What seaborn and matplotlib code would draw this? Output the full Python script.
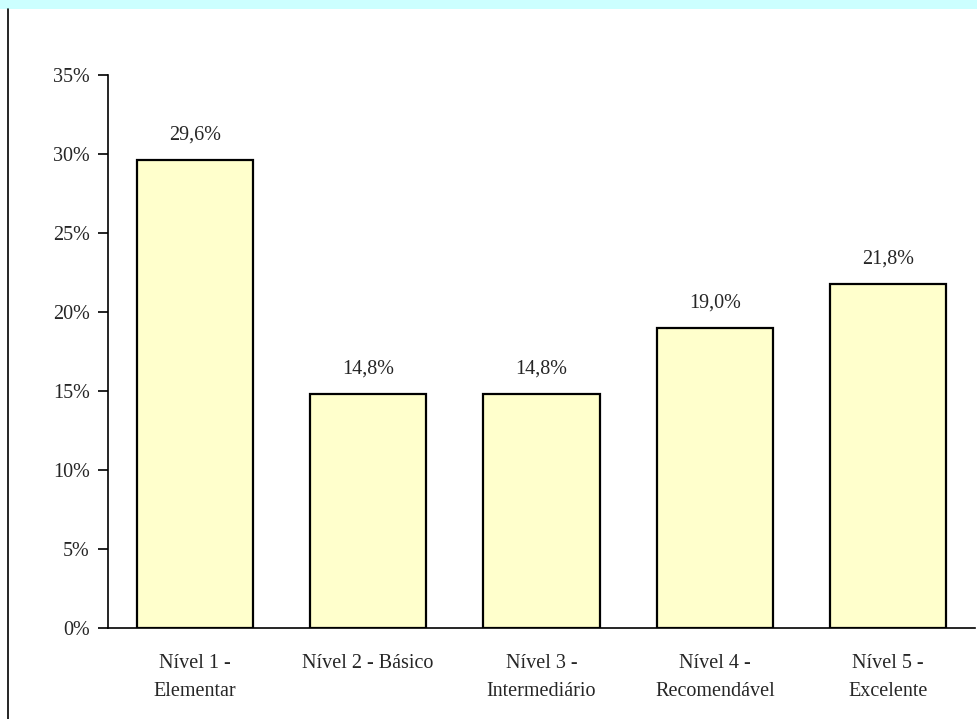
import matplotlib
matplotlib.use("Agg")
import matplotlib.pyplot as plt
from matplotlib.patches import Rectangle
from matplotlib.lines import Line2D
import seaborn as sns
import pandas as pd

categories = ["Nível 1 -\nElementar", "Nível 2 - Básico", "Nível 3 -\nIntermediário",
              "Nível 4 -\nRecomendável", "Nível 5 -\nExcelente"]
values = [29.6, 14.8, 14.8, 19.0, 21.8]
yticks = [0, 5, 10, 15, 20, 25, 30, 35]

sns.set_theme(style="white")
plt.rcParams["font.family"] = ["Liberation Serif", "DejaVu Serif"]

FS = 14.5
W, H = 977, 719
fig = plt.figure(figsize=(W / 100, H / 100), dpi=100)
ax = fig.add_axes([108 / W, 1 - 628 / H, (975 - 108) / W, (628 - 75) / H])

df = pd.DataFrame({"nivel": categories, "pct": values})
sns.barplot(data=df, x="nivel", y="pct", ax=ax, color="#FFFFCC", saturation=1,
            width=0.67, edgecolor="black", linewidth=1.6)

ax.set_ylim(0, 35)
ax.set_xlim(-0.5, len(categories) - 0.5)
ax.set_yticks(yticks)
ax.set_yticklabels([f"{v}%" for v in yticks], fontsize=FS)
ax.tick_params(axis="y", direction="out", length=7, width=1.2, color="black", pad=6, left=True)
ax.tick_params(axis="x", length=0, pad=19, labelsize=FS)
ax.set_xlabel("")
ax.set_ylabel("")
for s in ["top", "right"]:
    ax.spines[s].set_visible(False)
for s in ["left", "bottom"]:
    ax.spines[s].set_color("black")
    ax.spines[s].set_linewidth(1.2)

for i, v in enumerate(values):
    ax.annotate(f"{v:.1f}%".replace(".", ","), (i, v), xytext=(0, 11),
                textcoords="offset points", ha="center", va="bottom", fontsize=FS)

for lab in ax.get_xticklabels():
    lab.set_linespacing(1.65)

# top band and left rule of the frame
fig.patches.append(Rectangle((0, 1 - 9 / H), 1, 9 / H, transform=fig.transFigure,
                             facecolor="#CCFFFF", edgecolor="none"))
fig.add_artist(Line2D([7.5 / W, 7.5 / W], [0, 1 - 9 / H], transform=fig.transFigure,
                      color="black", linewidth=1.2))

fig.savefig("out.png", dpi=100, facecolor="white")
